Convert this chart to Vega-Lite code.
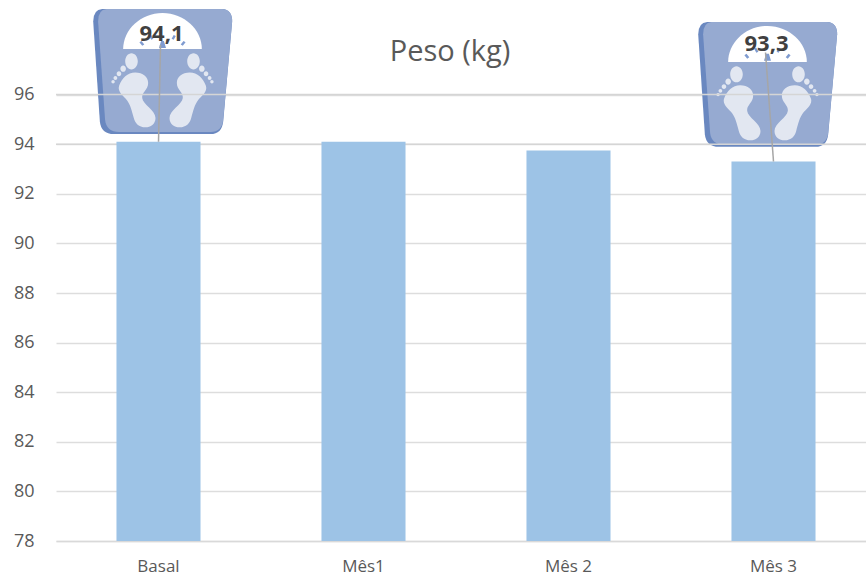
{
  "$schema": "https://vega.github.io/schema/vega-lite/v6.json",
  "autosize": "none",
  "width": 810,
  "height": 496,
  "padding": {"left": 56, "top": 45, "right": 0, "bottom": 37},
  "background": "#ffffff",
  "title": {
    "text": "Peso (kg)",
    "font": "Open Sans",
    "fontSize": 29,
    "fontWeight": "normal",
    "color": "#595959",
    "anchor": "middle",
    "dx": -11,
    "offset": -58
  },
  "config": {"view": {"stroke": null}},
  "data": {
    "values": [
      {"mes": "Basal", "peso": 94.1, "rotulo": "94,1"},
      {"mes": "Mês1", "peso": 94.1},
      {"mes": "Mês 2", "peso": 93.75},
      {"mes": "Mês 3", "peso": 93.3, "rotulo": "93,3"}
    ]
  },
  "encoding": {
    "x": {
      "field": "mes",
      "type": "nominal",
      "sort": ["Basal", "Mês1", "Mês 2", "Mês 3"],
      "title": null,
      "scale": {"domain": ["Basal", "Mês1", "Mês 2", "Mês 3"], "range": [0, 820], "paddingInner": 0.59, "paddingOuter": 0.295},
      "axis": {
        "labelAngle": 0,
        "ticks": false,
        "grid": false,
        "domainColor": "#d9d9d9",
        "domainWidth": 1.5,
        "labelFont": "Open Sans",
        "labelFontSize": 17,
        "labelColor": "#595959",
        "labelPadding": 17
      }
    },
    "y": {
      "field": "peso",
      "type": "quantitative",
      "title": null,
      "scale": {"domain": [78, 98], "nice": false, "zero": false},
      "axis": {
        "values": [78, 80, 82, 84, 86, 88, 90, 92, 94, 96],
        "ticks": false,
        "domain": false,
        "gridColor": "#dddddd",
        "gridWidth": 1.5,
        "labelFont": "Open Sans",
        "labelFontSize": 18,
        "labelColor": "#595959",
        "labelPadding": 22
      }
    }
  },
  "layer": [
    {
      "transform": [{"filter": "datum.rotulo"}],
      "mark": {
        "type": "point",
        "filled": true,
        "opacity": 1,
        "size": 19600,
        "fill": "#6a88c0",
        "xOffset": {"expr": "datum.mes === 'Basal' ? 4 : -6"},
        "yOffset": {"expr": "datum.mes === 'Basal' ? -70 : -77"},
        "shape": "M-.862 -.895L.852 -.895Q.995 -.886 .995 -.719L.867 .71Q.848 .89 .686 .89L-.695 .89Q-.876 .89 -.895 .71L-.99 -.719Q-.99 -.886 -.862 -.895Z"
      }
    },
    {
      "transform": [{"filter": "datum.rotulo"}],
      "mark": {
        "type": "point",
        "filled": true,
        "opacity": 1,
        "size": 19600,
        "fill": "#96aad1",
        "xOffset": {"expr": "datum.mes === 'Basal' ? 4 : -6"},
        "yOffset": {"expr": "datum.mes === 'Basal' ? -70 : -77"},
        "shape": "M-.8 -.895L.852 -.895Q.995 -.886 .995 -.719L.867 .69Q.848 .86 .686 .86L-.62 .86Q-.8 .86 -.82 .69L-.92 -.719Q-.92 -.886 -.8 -.895Z"
      }
    },
    {
      "transform": [{"filter": "datum.rotulo"}],
      "mark": {
        "type": "point",
        "filled": true,
        "opacity": 1,
        "size": 19600,
        "fill": "#ffffff",
        "xOffset": {"expr": "datum.mes === 'Basal' ? 4 : -6"},
        "yOffset": {"expr": "datum.mes === 'Basal' ? -70 : -77"},
        "shape": "M-.562 -.324C-.562 -.6 -.31 -.838 0 -.838C.31 -.838 .562 -.6 .562 -.324Z"
      }
    },
    {
      "transform": [{"filter": "datum.rotulo"}],
      "mark": {
        "type": "point",
        "filled": true,
        "opacity": 1,
        "size": 19600,
        "fill": "#e2e7f1",
        "xOffset": {"expr": "datum.mes === 'Basal' ? 4 : -6"},
        "yOffset": {"expr": "datum.mes === 'Basal' ? -70 : -77"},
        "shape": "M-.62 .2C-.58 .09 -.5 .01 -.39 .01C-.28 .01 -.205 .07 -.205 .16C-.205 .26 -.3 .29 -.29 .376C-.28 .47 -.1 .55 -.1 .662C-.1 .75 -.17 .795 -.243 .795C-.34 .795 -.39 .74 -.41 .662C-.44 .55 -.46 .47 -.505 .41C-.55 .35 -.65 .29 -.62 .2ZM-.533 -.148A.09 .115 0 1 0 -.353 -.148A.09 .115 0 1 0 -.533 -.148ZM-.602 -.043A.04 .045 0 1 0 -.522 -.043A.04 .045 0 1 0 -.602 -.043ZM-.655 .029A.033 .035 0 1 0 -.589 .029A.033 .035 0 1 0 -.655 .029ZM-.7 .09A.027 .028 0 1 0 -.646 .09A.027 .028 0 1 0 -.7 .09ZM-.73 .143A.024 .024 0 1 0 -.682 .143A.024 .024 0 1 0 -.73 .143ZM.62 .2C.58 .09 .5 .01 .39 .01C.28 .01 .205 .07 .205 .16C.205 .26 .3 .29 .29 .376C.28 .47 .1 .55 .1 .662C.1 .75 .17 .795 .243 .795C.34 .795 .39 .74 .41 .662C.44 .55 .46 .47 .505 .41C.55 .35 .65 .29 .62 .2ZM.353 -.148A.09 .115 0 1 0 .533 -.148A.09 .115 0 1 0 .353 -.148ZM.522 -.043A.04 .045 0 1 0 .602 -.043A.04 .045 0 1 0 .522 -.043ZM.589 .029A.033 .035 0 1 0 .655 .029A.033 .035 0 1 0 .589 .029ZM.646 .09A.027 .028 0 1 0 .7 .09A.027 .028 0 1 0 .646 .09ZM.682 .143A.024 .024 0 1 0 .73 .143A.024 .024 0 1 0 .682 .143Z"
      }
    },
    {
      "transform": [{"filter": "datum.rotulo"}],
      "mark": {
        "type": "point",
        "filled": true,
        "opacity": 1,
        "size": 19600,
        "fill": "#7f9bd0",
        "xOffset": {"expr": "datum.mes === 'Basal' ? 4 : -6"},
        "yOffset": {"expr": "datum.mes === 'Basal' ? -70 : -77"},
        "shape": "M-.05 -.34L-.02 -.44L.02 -.44L.05 -.34ZM-.33 -.42L-.3 -.44L-.26 -.39L-.29 -.37ZM.33 -.42L.3 -.44L.26 -.39L.29 -.37ZM-.19 -.51L-.16 -.525L-.13 -.47L-.16 -.455ZM.19 -.51L.16 -.525L.13 -.47L.16 -.455Z"
      }
    },
    {
      "data": {"values": [{"grade": 94}, {"grade": 96}]},
      "mark": {"type": "rule", "color": "#d5d5d5", "strokeWidth": 1.5},
      "encoding": {
        "x": {"value": 0},
        "x2": {"value": 810},
        "y": {"field": "grade", "type": "quantitative"}
      }
    },
    {
      "mark": {"type": "bar", "color": "#9dc3e6", "clip": true}
    },
    {
      "transform": [{"filter": "datum.rotulo"}],
      "mark": {
        "type": "rule",
        "color": "#a6a6a6",
        "strokeWidth": 1.5,
        "x2Offset": {"expr": "datum.mes === 'Basal' ? 2 : -8"},
        "y2Offset": {"expr": "datum.mes === 'Basal' ? -97 : -109"}
      },
      "encoding": {
        "x2": {"field": "mes"},
        "y2": {"field": "peso"}
      }
    },
    {
      "transform": [{"filter": "datum.rotulo"}],
      "mark": {
        "type": "text",
        "font": "Open Sans",
        "fontWeight": "bold",
        "fontSize": 22,
        "color": "#404040",
        "xOffset": {"expr": "datum.mes === 'Basal' ? 3 : -7"},
        "yOffset": {"expr": "datum.mes === 'Basal' ? -108 : -118"}
      },
      "encoding": {"text": {"field": "rotulo"}}
    }
  ]
}
